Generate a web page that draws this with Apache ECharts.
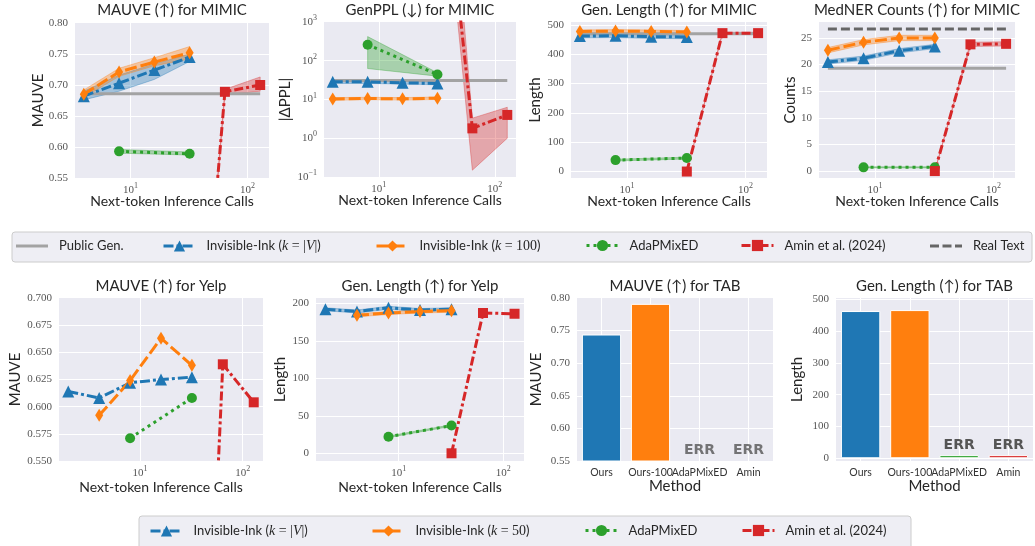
<!DOCTYPE html>
<html><head><meta charset="utf-8">
<script src="https://cdn.jsdelivr.net/npm/echarts@6/dist/echarts.min.js"></script>
<style>html,body{margin:0;padding:0;background:#fff}#c{width:1035px;height:546px}</style>
</head><body><div id="c"></div><script>
// ---------------- DATA ----------------
// x values (next-token inference calls)
const callsInk = [4, 8, 16, 32];
const callsAda = [8, 32];
const callsAmin = [32, 64, 128];
const callsRef = [4, 128];
const callsInkYelp = [2, 4, 8, 16, 32];
const callsInk50Yelp = [4, 8, 16, 32];

// MAUVE for MIMIC
const mimicMauvePublic = [0.686, 0.686];
const mimicMauveInk = [0.682, 0.703, 0.724, 0.745];
const mimicMauveInkLo = [0.676, 0.690, 0.709, 0.738];
const mimicMauveInkHi = [0.690, 0.716, 0.734, 0.750];
const mimicMauveInk100 = [0.685, 0.721, 0.737, 0.752];
const mimicMauveInk100Lo = [0.680, 0.714, 0.731, 0.742];
const mimicMauveInk100Hi = [0.692, 0.727, 0.744, 0.762];
const mimicMauveAda = [0.593, 0.589];
const mimicMauveAdaLo = [0.590, 0.587];
const mimicMauveAdaHi = [0.596, 0.592];
const mimicMauveAmin = [0.01, 0.689, 0.700];
const mimicMauveAminLo = [0.005, 0.684, 0.690];
const mimicMauveAminHi = [0.015, 0.693, 0.713];

// GenPPL |dPPL| for MIMIC
const mimicPplPublic = [31, 31];
const mimicPplInk = [28.5, 28.5, 27, 26];
const mimicPplInkLo = [26, 26, 25, 24];
const mimicPplInkHi = [31, 31, 29.5, 28];
const mimicPplInk100 = [10.3, 10.6, 10.4, 10.8];
const mimicPplInk100Lo = [9.6, 9.9, 9.7, 10.0];
const mimicPplInk100Hi = [11.2, 11.4, 11.2, 11.6];
const mimicPplAda = [260, 44];
const mimicPplAdaLo = [63, 40];
const mimicPplAdaHi = [420, 49];
const mimicPplAmin = [4e8, 1.8, 4.0];
const mimicPplAminLo = [2e8, 0.15, 1.0];
const mimicPplAminHi = [1e11, 3.3, 6.3];

// Gen. Length for MIMIC
const mimicLenPublic = [470, 470];
const mimicLenInk = [462, 463, 460, 459];
const mimicLenInkLo = [456, 457, 454, 453];
const mimicLenInkHi = [468, 469, 466, 465];
const mimicLenInk100 = [478, 479, 478, 476];
const mimicLenInk100Lo = [473, 474, 473, 471];
const mimicLenInk100Hi = [483, 484, 483, 481];
const mimicLenAda = [39, 46];
const mimicLenAdaLo = [36, 43];
const mimicLenAdaHi = [42, 49];
const mimicLenAmin = [0, 472, 472];
const mimicLenAminLo = [0, 469, 469];
const mimicLenAminHi = [0, 475, 475];

// MedNER counts for MIMIC
const mimicNerReal = [26.7, 26.7];
const mimicNerPublic = [19.3, 19.3];
const mimicNerInk = [20.5, 21.2, 22.6, 23.4];
const mimicNerInkLo = [20.1, 20.8, 22.2, 23.0];
const mimicNerInkHi = [20.9, 21.6, 23.0, 23.8];
const mimicNerInk100 = [22.7, 24.2, 25.0, 25.0];
const mimicNerInk100Lo = [22.2, 23.7, 24.5, 24.5];
const mimicNerInk100Hi = [23.2, 24.7, 25.5, 25.5];
const mimicNerAda = [0.7, 0.7];
const mimicNerAdaLo = [0.6, 0.6];
const mimicNerAdaHi = [0.8, 0.8];
const mimicNerAmin = [0, 23.8, 23.9];
const mimicNerAminLo = [0, 23.4, 23.5];
const mimicNerAminHi = [0, 24.2, 24.3];

// MAUVE for Yelp
const yelpMauveInk = [0.614, 0.608, 0.622, 0.625, 0.627];
const yelpMauveInk50 = [0.592, 0.624, 0.663, 0.638];
const yelpMauveAda = [0.571, 0.608];
const yelpMauveAmin = [0.01, 0.639, 0.604];

// Gen. Length for Yelp
const yelpLenInk = [192, 189, 194, 191, 192];
const yelpLenInkLo = [190, 187, 192, 189, 190];
const yelpLenInkHi = [194, 191, 196, 193, 194];
const yelpLenInk50 = [184, 187, 189, 190];
const yelpLenInk50Lo = [182, 185, 187, 188];
const yelpLenInk50Hi = [186, 189, 191, 192];
const yelpLenAda = [22, 37];
const yelpLenAdaLo = [21, 36];
const yelpLenAdaHi = [23, 38];
const yelpLenAmin = [0, 187, 186];

// TAB (bars)
const tabMethods = ['Ours', 'Ours-100', 'AdaPMixED', 'Amin'];
const tabMauve = [0.744, 0.791, null, null];
const tabMauveErr = ['', '', 'ERR', 'ERR'];
const tabLen = [463, 466, 10, 10];
const tabLenErr = ['', '', 'ERR', 'ERR'];

// text
const xAxisTitle = 'Next-token Inference Calls';
const titles = ['MAUVE (↑) for MIMIC', 'GenPPL (↓) for MIMIC', 'Gen. Length (↑) for MIMIC', 'MedNER Counts (↑) for MIMIC',
  'MAUVE (↑) for Yelp', 'Gen. Length (↑) for Yelp', 'MAUVE (↑) for TAB', 'Gen. Length (↑) for TAB'];
const yNames = ['MAUVE', '|ΔPPL|', 'Length', 'Counts', 'MAUVE', 'Length', 'MAUVE', 'Length'];

// ---------------- STYLE / LAYOUT ----------------
const SANS = 'Lato', SERIF = 'Liberation Serif';
const C = {blue:'#1f77b4', orange:'#ff7f0e', green:'#2ca02c', red:'#d62728', pub:'#a3a3a3', real:'#666666'};
const N = {pub:'Public Gen.', ink:'Invisible-Ink (k=|V|)', ink100:'Invisible-Ink (k=100)', ink50:'Invisible-Ink (k=50)', ada:'AdaPMixED', amin:'Amin et al. (2024)', real:'Real Text'};
const STY = {};
STY[N.ink] = {color:C.blue, dash:[10,3,3,3], symbol:'triangle', size:12};
STY[N.ink100] = {color:C.orange, dash:[12,4], symbol:'diamond', size:[8,13]};
STY[N.ink50] = {color:C.orange, dash:[12,4], symbol:'diamond', size:[8,13]};
STY[N.ada] = {color:C.green, dash:[3,4], symbol:'circle', size:10};
STY[N.amin] = {color:C.red, dash:[9,3,3,3], symbol:'rect', size:10};
STY[N.pub] = {color:C.pub, dash:'solid', symbol:'none', size:0};
STY[N.real] = {color:C.real, dash:[9,4], symbol:'none', size:0};
const barColors = [C.blue, C.orange, C.green, C.red];

const grids = [
  {left:75, top:23, width:194, height:155},
  {left:324, top:22, width:192, height:155},
  {left:571, top:22, width:196, height:156},
  {left:819, top:22, width:196, height:156},
  {left:59, top:298, width:204, height:163},
  {left:316, top:298, width:208, height:163},
  {left:577, top:298, width:196, height:163},
  {left:836, top:298, width:197, height:163}
];
const titleTops = [3,3,3,3,279,279,279,279];
const yGaps = [29, 31, 28, 21, 36, 28, 33, 31];

const supRich = {
  b:{fontFamily:SERIF, fontSize:11, color:'#555', lineHeight:16},
  s:{fontFamily:SERIF, fontSize:8, color:'#555', verticalAlign:'top', lineHeight:9}
};
function powFmt(v){
  const e = Math.log10(v), r = Math.round(e);
  if (Math.abs(e - r) > 1e-6) return '';
  return '{b|10}{s|' + (r < 0 ? '\u2212' + (-r) : r) + '}';
}
function stepFmt(step, dec){
  return v => { const q = v / step; return Math.abs(q - Math.round(q)) < 1e-6 ? v.toFixed(dec) : ''; };
}

const logXMin = [3.364, 152.2];   // 4..128 with 5% margin (log)
const logXMinYelp = [1.6245, 157.6];
const yCfg = [
  {min:0.55, max:0.80, interval:0.05, fmt:stepFmt(0.05,2)},
  {log:true, min:0.1, max:1000, fmt:powFmt},
  {min:-22, max:510, fmt:stepFmt(100,0)},
  {min:-1.3, max:28.0, fmt:stepFmt(5,0)},
  {min:0.55, max:0.70, interval:0.025, fmt:stepFmt(0.025,3)},
  {min:-10.3, max:207, fmt:stepFmt(50,0)},
  {min:0.55, max:0.80, interval:0.05, fmt:stepFmt(0.05,2)},
  {min:-8.5, max:504, fmt:stepFmt(100,0)}
];

const xAxes = [], yAxes = [], series = [];
grids.forEach((g, i) => {
  if (i === 6 || i === 7) {
    xAxes.push({type:'category', gridIndex:i, data:tabMethods,
      axisLine:{show:false}, axisTick:{show:false, alignWithLabel:true},
      axisLabel:{interval:0, margin:6, fontFamily:SANS, fontSize:10.5, color:'#333'},
      splitLine:{show:true, alignWithLabel:true, lineStyle:{color:'#fff', width:1}},
      name:'Method', nameLocation:'middle', nameGap:18, nameMoveOverlap:false,
      nameTextStyle:{fontFamily:SANS, fontSize:15, color:'#262626'}});
  } else {
    const r = i < 4 ? logXMin : logXMinYelp;
    xAxes.push({type:'log', logBase:10, gridIndex:i, min:r[0], max:r[1],
      axisLine:{show:false}, axisTick:{show:false},
      axisLabel:{formatter:powFmt, rich:supRich, margin:4, showMinLabel:false, showMaxLabel:false},
      splitLine:{show:true, lineStyle:{color:'#fff', width:1}, showMinLine:false, showMaxLine:false},
      minorSplitLine:{show:false},
      name:xAxisTitle, nameLocation:'middle', nameGap: i < 4 ? 16 : 19, nameMoveOverlap:false,
      nameTextStyle:{fontFamily:SANS, fontSize:14, color:'#262626'}});
  }
  const c = yCfg[i];
  const ya = {type:c.log ? 'log' : 'value', gridIndex:i, min:c.min, max:c.max,
    axisLine:{show:false}, axisTick:{show:false},
    axisLabel:{formatter:c.fmt, rich:supRich, margin:7, color:'#555', fontFamily:SERIF, fontSize:11},
    splitLine:{show:true, lineStyle:{color:'#fff', width:1}, showMinLine:false, showMaxLine:false},
    name:yNames[i], nameLocation:'middle', nameGap:yGaps[i], nameMoveOverlap:false,
    nameTextStyle:{fontFamily:SANS, fontSize:15, color:'#262626'}};
  if (c.log) ya.logBase = 10;
  if (c.interval) ya.interval = c.interval;
  yAxes.push(ya);
});

function addLine(gi, name, xs, ys, z){
  const s = STY[name];
  series.push({type:'line', name, xAxisIndex:gi, yAxisIndex:gi,
    data: xs.map((x, k) => [x, ys[k]]),
    symbol:s.symbol, symbolSize:s.size, showSymbol:s.symbol !== 'none',
    lineStyle:{color:s.color, width:3, type:s.dash}, itemStyle:{color:s.color},
    clip:true, z: z || 4, silent:true, emphasis:{disabled:true}});
}
function hexA(hex, a){
  const n = parseInt(hex.slice(1), 16);
  return 'rgba(' + (n>>16&255) + ',' + (n>>8&255) + ',' + (n&255) + ',' + a + ')';
}
function addBand(gi, name, xs, lo, hi){
  const col = STY[name].color;
  series.push({type:'custom', xAxisIndex:gi, yAxisIndex:gi, clip:true, z:2, silent:true,
    data: xs.map((x, k) => [x, lo[k], hi[k]]),
    encode:{x:0, y:[1,2]},
    renderItem:(params, api) => {
      if (params.dataIndexInside !== 0) return null;
      const n = params.dataInsideLength, pts = [];
      for (let k = 0; k < n; k++) pts.push(api.coord([api.value(0,k), api.value(1,k)]));
      for (let k = n - 1; k >= 0; k--) pts.push(api.coord([api.value(0,k), api.value(2,k)]));
      return {type:'polygon', shape:{points:pts}, style:{fill:hexA(col,0.35), stroke:hexA(col,0.35), lineWidth:1}};
    }});
}

// Panel 0: MAUVE MIMIC
addLine(0, N.pub, callsRef, mimicMauvePublic, 3);
addBand(0, N.ink, callsInk, mimicMauveInkLo, mimicMauveInkHi);
addLine(0, N.ink, callsInk, mimicMauveInk);
addBand(0, N.ink100, callsInk, mimicMauveInk100Lo, mimicMauveInk100Hi);
addLine(0, N.ink100, callsInk, mimicMauveInk100);
addBand(0, N.ada, callsAda, mimicMauveAdaLo, mimicMauveAdaHi);
addLine(0, N.ada, callsAda, mimicMauveAda);
addBand(0, N.amin, callsAmin, mimicMauveAminLo, mimicMauveAminHi);
addLine(0, N.amin, callsAmin, mimicMauveAmin);
// Panel 1: GenPPL
addLine(1, N.pub, callsRef, mimicPplPublic, 3);
addBand(1, N.ink, callsInk, mimicPplInkLo, mimicPplInkHi);
addLine(1, N.ink, callsInk, mimicPplInk);
addBand(1, N.ink100, callsInk, mimicPplInk100Lo, mimicPplInk100Hi);
addLine(1, N.ink100, callsInk, mimicPplInk100);
addBand(1, N.ada, callsAda, mimicPplAdaLo, mimicPplAdaHi);
addLine(1, N.ada, callsAda, mimicPplAda);
addBand(1, N.amin, callsAmin, mimicPplAminLo, mimicPplAminHi);
addLine(1, N.amin, callsAmin, mimicPplAmin);
// Panel 2: Gen length MIMIC
addLine(2, N.pub, callsRef, mimicLenPublic, 3);
addBand(2, N.ink, callsInk, mimicLenInkLo, mimicLenInkHi);
addLine(2, N.ink, callsInk, mimicLenInk);
addBand(2, N.ink100, callsInk, mimicLenInk100Lo, mimicLenInk100Hi);
addLine(2, N.ink100, callsInk, mimicLenInk100);
addBand(2, N.ada, callsAda, mimicLenAdaLo, mimicLenAdaHi);
addLine(2, N.ada, callsAda, mimicLenAda);
addBand(2, N.amin, callsAmin, mimicLenAminLo, mimicLenAminHi);
addLine(2, N.amin, callsAmin, mimicLenAmin);
// Panel 3: MedNER
addLine(3, N.real, callsRef, mimicNerReal, 3);
addLine(3, N.pub, callsRef, mimicNerPublic, 3);
addBand(3, N.ink, callsInk, mimicNerInkLo, mimicNerInkHi);
addLine(3, N.ink, callsInk, mimicNerInk);
addBand(3, N.ink100, callsInk, mimicNerInk100Lo, mimicNerInk100Hi);
addLine(3, N.ink100, callsInk, mimicNerInk100);
addBand(3, N.ada, callsAda, mimicNerAdaLo, mimicNerAdaHi);
addLine(3, N.ada, callsAda, mimicNerAda);
addBand(3, N.amin, callsAmin, mimicNerAminLo, mimicNerAminHi);
addLine(3, N.amin, callsAmin, mimicNerAmin);
// Panel 4: MAUVE Yelp
addLine(4, N.ink, callsInkYelp, yelpMauveInk);
addLine(4, N.ink50, callsInk50Yelp, yelpMauveInk50);
addLine(4, N.ada, callsAda, yelpMauveAda);
addLine(4, N.amin, callsAmin, yelpMauveAmin);
// Panel 5: Length Yelp
addBand(5, N.ink, callsInkYelp, yelpLenInkLo, yelpLenInkHi);
addLine(5, N.ink, callsInkYelp, yelpLenInk);
addBand(5, N.ink50, callsInk50Yelp, yelpLenInk50Lo, yelpLenInk50Hi);
addLine(5, N.ink50, callsInk50Yelp, yelpLenInk50);
addBand(5, N.ada, callsAda, yelpLenAdaLo, yelpLenAdaHi);
addLine(5, N.ada, callsAda, yelpLenAda);
addLine(5, N.amin, callsAmin, yelpLenAmin);

// Panels 6,7: TAB bars
const errLabel = {fontFamily:'DejaVu Sans', fontWeight:'bold', fontSize:14, color:'#555'};
series.push({type:'bar', name:'tab-mauve', xAxisIndex:6, yAxisIndex:6, barWidth:'80%', z:3, silent:true,
  itemStyle:{borderColor:'#fff', borderWidth:1},
  data: tabMauve.map((v, k) => ({value:v, itemStyle:{color:barColors[k]}}))});
series.push({type:'scatter', name:'tab-mauve-err', xAxisIndex:6, yAxisIndex:6, clip:false, z:5, silent:true,
  symbolSize:1, itemStyle:{color:'transparent'},
  label:Object.assign({show:true, position:'top', distance:3, formatter:p => p.data[2]}, errLabel),
  data: tabMethods.map((m, k) => tabMauveErr[k] ? [m, yCfg[6].min, tabMauveErr[k]] : null).filter(Boolean)});
series.push({type:'bar', name:'tab-len', xAxisIndex:7, yAxisIndex:7, barWidth:'80%', z:3, silent:true,
  itemStyle:{borderColor:'#fff', borderWidth:1},
  data: tabLen.map((v, k) => ({value:v, itemStyle:{color:barColors[k]},
    label: tabLenErr[k] ? Object.assign({show:true, position:'top', distance:3, formatter:tabLenErr[k]}, errLabel) : {show:false}}))});

// Titles
const titleCfg = titles.map((t, i) => ({text:t, left:grids[i].left + grids[i].width/2, top:titleTops[i], textAlign:'center', padding:0,
  textStyle:{fontFamily:SANS, fontSize:15, fontWeight:'normal', color:'#262626'}}));

// Legends
const legRich = {
  i:{fontFamily:SERIF, fontStyle:'italic', fontSize:14, color:'#262626'},
  m:{fontFamily:SERIF, fontSize:14, color:'#262626'}
};
function legFmt(name){
  const m = name.match(/^Invisible-Ink \(k=(.+)\)$/);
  if (!m) return name;
  if (m[1] === '|V|') return 'Invisible-Ink ({i|k}{m| = |}{i|V}{m||})';
  return 'Invisible-Ink ({i|k}{m| = ' + m[1] + '})';
}
// line-only legend handles (no marker): solid and dashed
const ICON_SOLID = 'path://M0,0h0.05v0.05h-0.05z M0,5.5H32V8.5H0z M31.95,13.95h0.05v0.05h-0.05z';
const ICON_DASH = 'path://M0,0h0.05v0.05h-0.05z M0,5.5h9v3h-9z M12.5,5.5h9v3h-9z M25,5.5h7v3h-7z M31.95,13.95h0.05v0.05h-0.05z';
const legIcons = {};
legIcons[N.pub] = ICON_SOLID;
legIcons[N.real] = ICON_DASH;
const legTop = [[N.pub,16],[N.ink,162],[N.ink100,375],[N.ada,585],[N.amin,740],[N.real,930]];
const legBot = [[N.ink,149],[N.ink50,371],[N.ada,584],[N.amin,741]];
function mkLeg(name, x, y){
  const item = legIcons[name] ? {name, icon:legIcons[name], itemStyle:{color:STY[name].color}} : {name};
  return {data:[item], left:x, top:y, padding:0, itemWidth:32, itemHeight:14, selectedMode:false,
    lineStyle:{width:3}, formatter:legFmt,
    textStyle:{fontFamily:SANS, fontSize:13, color:'#262626', padding:[0,0,0,6], rich:legRich}};
}
const legends = legTop.map(([n,x]) => mkLeg(n, x, 239)).concat(legBot.map(([n,x]) => mkLeg(n, x, 524)));

const chart = echarts.init(document.getElementById('c'), null, {renderer:'canvas'});
chart.setOption({
  animation:false,
  backgroundColor:'#ffffff',
  title:titleCfg,
  grid:grids.map(g => Object.assign({show:true, backgroundColor:'#eaeaf2', borderWidth:0, containLabel:false, outerBoundsMode:'none'}, g)),
  xAxis:xAxes, yAxis:yAxes,
  legend:legends,
  graphic:[
    {type:'rect', silent:true, z:-1, shape:{x:12, y:232, width:1020, height:30, r:3}, style:{fill:'#eeeef4', stroke:'#cccccc', lineWidth:1}},
    {type:'rect', silent:true, z:-1, shape:{x:139, y:516, width:772, height:34, r:3}, style:{fill:'#eeeef4', stroke:'#cccccc', lineWidth:1}}
  ],
  series
});
</script></body></html>
